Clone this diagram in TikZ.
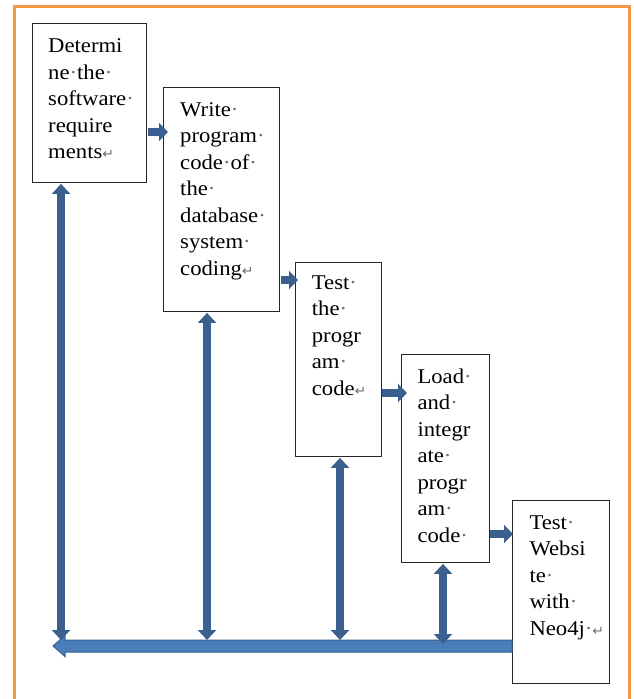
\documentclass[tikz,border=0pt]{standalone}
\usepackage{fontspec}
\usepackage{graphicx}
\setmainfont{Liberation Serif}
\newfontfamily\symfont{DejaVu Sans}
\usetikzlibrary{arrows.meta,calc}
\definecolor{frameorange}{HTML}{F79646}
\definecolor{arrowblue}{HTML}{3B5F8F}
\definecolor{barblue}{HTML}{4A7EBB}
\definecolor{markgray}{HTML}{6E6E6E}
\newcommand\md{{\color{markgray}·}}
\newcommand\retmark{{\symfont\fontsize{13}{13}\selectfont\color{markgray}↵}}
\newcommand\boxtext[1]{\scalebox{1.08}[1]{\fontsize{21}{26.5}\selectfont\begin{tabular}[t]{@{}l@{}}#1\end{tabular}}}
\tikzset{
  stepbox/.style={draw=black!85, line width=0.9pt, fill=white, anchor=north west, inner sep=0pt},
  boxlabel/.style={anchor=base west, inner sep=0pt},
  rarrow/.style={arrowblue, line width=7.5pt, -{Triangle[length=9pt,width=18pt]}},
  varrow/.style={arrowblue, line width=8pt, {Triangle[length=10pt,width=18pt]}-{Triangle[length=10pt,width=18pt]}},
  barstyle/.style={fill=barblue, draw=arrowblue, line width=1pt, line join=miter},
  framestyle/.style={draw=frameorange, line width=3pt}
}
\begin{document}
\begin{tikzpicture}[x=1pt,y=-1pt]
\useasboundingbox (0,0) rectangle (633,699);
\draw[framestyle] (14,710) -- (14,6) -- (629,6) -- (629,710);

% boxes
\node[stepbox, minimum width=114pt, minimum height=159pt] (b1) at (32,23) {};
\node[stepbox, minimum width=116pt, minimum height=224pt] (b2) at (163,87) {};
\node[stepbox, minimum width=86pt, minimum height=194pt] (b3) at (295,262) {};
\node[stepbox, minimum width=88pt, minimum height=208pt] (b4) at (401,354) {};
\node[stepbox, minimum width=97pt, minimum height=183pt] (b5) at (512,500) {};

% level coordinates
\coordinate (r1) at (0,132);
\coordinate (r2) at (0,280);
\coordinate (r3) at (0,393);
\coordinate (r4) at (0,534);
\coordinate (vx1) at (61,0);
\coordinate (vx2) at (207,0);
\coordinate (vx3) at (340,0);
\coordinate (vx4) at (443,0);
\coordinate (vlow) at (0,640);
\coordinate (vlow4) at (0,644);
\coordinate (barend) at (53,646);

% feedback bar
\draw[barstyle] ($(b5.west |- barend)+(0,-6)$) -- ($(barend)+(12,-6)$) -- ($(barend)+(12,-10.5)$)
  -- (barend) -- ($(barend)+(12,10.5)$) -- ($(barend)+(12,6)$) -- ($(b5.west |- barend)+(0,6)$) -- cycle;

% forward arrows
\draw[rarrow] ($(b1.east |- r1)+(1.5,0)$) -- ($(b2.west |- r1)+(5,0)$);
\draw[rarrow] ($(b2.east |- r2)+(1.5,0)$) -- ($(b3.west |- r2)+(3,0)$);
\draw[rarrow] ($(b3.east |- r3)+(0.5,0)$) -- ($(b4.west |- r3)+(6,0)$);
\draw[rarrow] ($(b4.east |- r4)+(0.5,0)$) -- ($(b5.west |- r4)+(1,0)$);

% vertical double arrows
\draw[varrow] ($(vx1 |- b1.south)+(0,1)$) -- (vx1 |- vlow);
\draw[varrow] ($(vx2 |- b2.south)+(0,1)$) -- (vx2 |- vlow);
\draw[varrow] ($(vx3 |- b3.south)+(0,1)$) -- (vx3 |- vlow);
\draw[varrow] ($(vx4 |- b4.south)+(0,1)$) -- (vx4 |- vlow4);

% texts
\node[boxlabel] (t1) at ($(b1.north west)+(16,29.7)$) {\boxtext{Determi\\ne\md the\md\\software\md\\require\\ments\retmark}};
\node[boxlabel] (t2) at ($(b2.north west)+(17,29)$) {\boxtext{Write\md\\program\md\\code\md of\md\\the\md\\database\md\\system\md\\coding\retmark}};
\node[boxlabel] (t3) at ($(b3.north west)+(16.7,27.3)$) {\boxtext{Test\md\\the\md\\progr\\am\md\\code\retmark}};
\node[boxlabel] (t4) at ($(b4.north west)+(16.3,29.3)$) {\boxtext{Load\md\\and\md\\integr\\ate\md\\progr\\am\md\\code\md}};
\node[boxlabel] (t5) at ($(b5.north west)+(17.3,29.3)$) {\boxtext{Test\md\\Websi\\te\md\\with\md\\Neo4j\md\retmark}};
\end{tikzpicture}
\end{document}
